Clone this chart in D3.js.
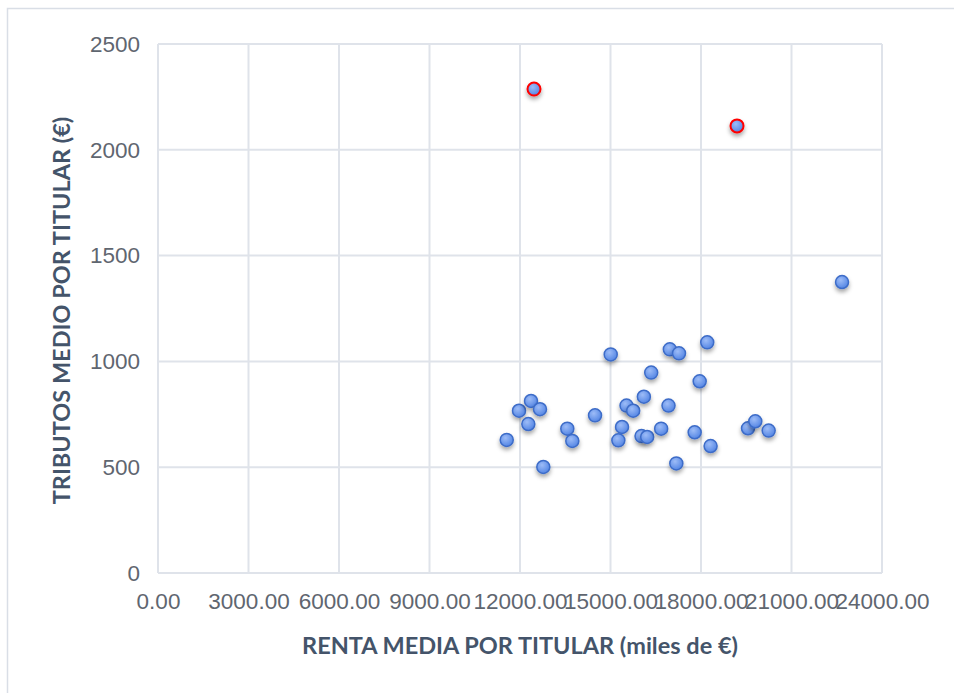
<!DOCTYPE html>
<html>
<head>
<meta charset="utf-8">
<script src="https://cdn.jsdelivr.net/npm/d3@7"></script>
<style>
	body { margin: 0; background: #fff; }
	.tick text { font-family: "Liberation Sans", Arial, sans-serif; font-size: 22.5px; fill: #5f6670; }
	.axis-title { font-family: Lato, "Open Sans", sans-serif; font-weight: bold; font-size: 23.5px; fill: #44546a; }
</style>
</head>
<body>
<div id="chart"></div>
<script>

// renta media por titular (x) y tributos medio por titular (y)
var renta    = [11560, 11967, 12365, 12663, 12276, 12773, 13568, 13734, 14487, 15007,
                15382, 15260, 15531, 15752, 16106, 16349, 16028, 16215, 16679, 16923,
                16967, 17271, 17182, 17790, 17956, 18207, 18318, 19558, 19800, 20243,
                22675, 12464, 19194];
var tributos = [629, 767, 813, 774, 704, 501, 682, 624, 745, 1033,
                690, 627, 791, 767, 833, 947, 647, 643, 682, 791,
                1057, 1038, 518, 665, 906, 1090, 600, 684, 717, 673,
                1375, 2287, 2113];
// puntos destacados (borde rojo)
var destacado = [0, 0, 0, 0, 0, 0, 0, 0, 0, 0,
                 0, 0, 0, 0, 0, 0, 0, 0, 0, 0,
                 0, 0, 0, 0, 0, 0, 0, 0, 0, 0,
                 0, 1, 1];

var xTicks = [0, 3000, 6000, 9000, 12000, 15000, 18000, 21000, 24000];
var yTicks = [0, 500, 1000, 1500, 2000, 2500];

var xTitle = "RENTA MEDIA POR TITULAR (miles de €)";
var yTitle = "TRIBUTOS MEDIO POR TITULAR (€)";


var width = 954, height = 693;
var margin = { left: 158, right: 72, top: 44, bottom: 120 };

var svg = d3.select("#chart").append("svg")
	.attr("width", width)
	.attr("height", height);

var defs = svg.append("defs");
var grad = defs.append("radialGradient")
	.attr("id", "dotFill")
	.attr("cx", "40%").attr("cy", "35%").attr("r", "70%");
grad.append("stop").attr("offset", "0%").attr("stop-color", "#9dbcf7");
grad.append("stop").attr("offset", "100%").attr("stop-color", "#4f82e3");

var shadow = defs.append("filter")
	.attr("id", "dotShadow")
	.attr("x", "-100%").attr("y", "-100%").attr("width", "300%").attr("height", "300%");
shadow.append("feDropShadow")
	.attr("dx", 0).attr("dy", 3).attr("stdDeviation", 2.2)
	.attr("flood-color", "#000").attr("flood-opacity", 0.35);

// chart frame
svg.append("path")
	.attr("d", "M7.5," + height + "V8.5H" + width)
	.attr("fill", "none")
	.attr("stroke", "#d9dee6")
	.attr("stroke-width", 1.5);

var x = d3.scaleLinear().domain([0, 24000]).range([margin.left, width - margin.right]);
var y = d3.scaleLinear().domain([0, 2500]).range([height - margin.bottom, margin.top]);

// grid
svg.append("g").selectAll("line.v").data(xTicks).enter().append("line")
	.attr("x1", function(d) { return x(d); })
	.attr("x2", function(d) { return x(d); })
	.attr("y1", y(0)).attr("y2", y(2500))
	.attr("stroke", "#dfe3ea").attr("stroke-width", 2);
svg.append("g").selectAll("line.h").data(yTicks).enter().append("line")
	.attr("x1", x(0)).attr("x2", x(24000))
	.attr("y1", function(d) { return y(d); })
	.attr("y2", function(d) { return y(d); })
	.attr("stroke", "#dfe3ea").attr("stroke-width", 2);

// axes (labels only)
var xAxis = svg.append("g")
	.attr("transform", "translate(0," + y(0) + ")")
	.call(d3.axisBottom(x).tickValues(xTicks).tickSize(0).tickPadding(20).tickFormat(d3.format(".2f")));
var yAxis = svg.append("g")
	.attr("transform", "translate(" + x(0) + ",0)")
	.call(d3.axisLeft(y).tickValues(yTicks).tickSize(0).tickPadding(18).tickFormat(d3.format("d")));
xAxis.select(".domain").remove();
yAxis.select(".domain").remove();

svg.append("text")
	.attr("class", "axis-title")
	.attr("x", 520)
	.attr("y", 654)
	.attr("text-anchor", "middle")
	.text(xTitle);
svg.append("text")
	.attr("class", "axis-title")
	.attr("transform", "translate(70," + ((y(0) + y(2500)) / 2 + 2) + ") rotate(-90)")
	.attr("text-anchor", "middle")
	.text(yTitle);

// points
svg.append("g").selectAll("circle")
	.data(d3.range(renta.length))
	.enter().append("circle")
	.attr("cx", function(i) { return x(renta[i]); })
	.attr("cy", function(i) { return y(tributos[i]); })
	.attr("r", 6.5)
	.attr("fill", "url(#dotFill)")
	.attr("stroke", function(i) { return destacado[i] ? "#ff0000" : "#3d6cc8"; })
	.attr("stroke-width", function(i) { return destacado[i] ? 2 : 1.5; })
	.attr("filter", "url(#dotShadow)");

</script>
</body>
</html>
